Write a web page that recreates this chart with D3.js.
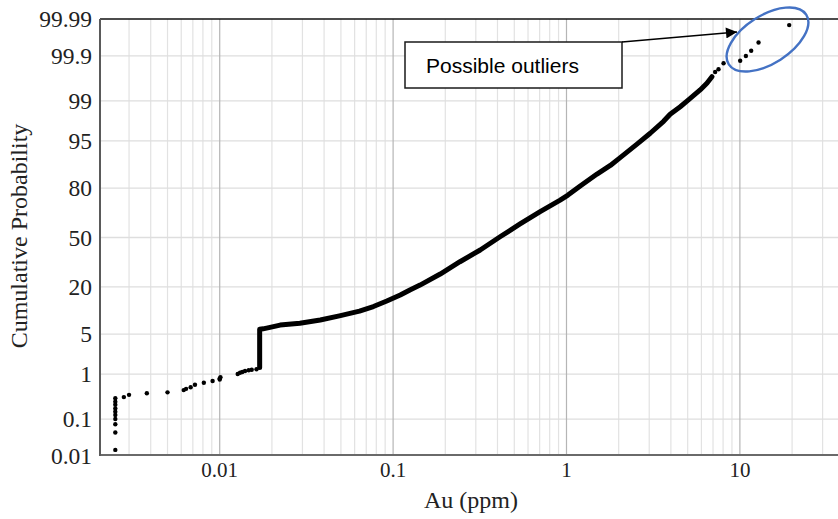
<!DOCTYPE html>
<html>
<head>
<meta charset="utf-8">
<script src="https://cdn.jsdelivr.net/npm/d3@7"></script>
<style>
  html, body { margin: 0; padding: 0; background: #fff; }
  svg { display: block; }
</style>
</head>
<body>
<script>
// Probability plot of Au assays: cumulative probability (probit axis) vs grade (log axis)

const yTicks = [0.01, 0.1, 1, 5, 20, 50, 80, 95, 99, 99.9, 99.99];
const yTickLabels = ["0.01", "0.1", "1", "5", "20", "50", "80", "95", "99", "99.9", "99.99"];
const xTicks = [0.01, 0.1, 1, 10];
const xTickLabels = ["0.01", "0.1", "1", "10"];

// low-grade tail: individual samples (ppm, cumulative %)
const lowAu = [0.0025, 0.0025, 0.0025, 0.0025, 0.0025, 0.0025, 0.0025, 0.0025, 0.0025, 0.0025,
               0.0028, 0.0030, 0.0038, 0.0050, 0.0062, 0.0064, 0.0068, 0.0072, 0.0081, 0.0091,
               0.0100, 0.0100, 0.0101, 0.0127, 0.0131, 0.0135, 0.0140, 0.0147, 0.0153, 0.0163];
const lowP  = [0.015, 0.045, 0.074, 0.10, 0.126, 0.151, 0.18, 0.22, 0.26, 0.31,
               0.33, 0.37, 0.40, 0.42, 0.47, 0.50, 0.54, 0.61, 0.67, 0.73,
               0.78, 0.82, 0.87, 1.01, 1.07, 1.10, 1.15, 1.19, 1.22, 1.25];

// main body of the distribution: samples close enough to form a continuous trace
const runAu = [0.017, 0.017, 0.0178, 0.0195, 0.0223, 0.029, 0.038, 0.049, 0.064, 0.077,
               0.092, 0.110, 0.125, 0.143, 0.187, 0.243, 0.318, 0.414, 0.540, 0.705,
               0.919, 1.02, 1.20, 1.50, 1.79, 2.04, 2.55, 3.04, 3.63, 3.96,
               4.53, 5.05, 5.90, 6.45, 6.90];
const runP  = [1.35, 5.9, 6.0, 6.3, 6.8, 7.2, 8.0, 9.1, 10.5, 12.0,
               14.0, 16.4, 18.6, 20.9, 26.7, 34.0, 41.6, 50.5, 59.1, 67.0,
               73.8, 76.5, 81.0, 86.0, 89.0, 91.3, 94.4, 96.2, 97.6, 98.2,
               98.7, 99.04, 99.40, 99.567, 99.69];

// high-grade tail, including the possible outliers
const highAu = [7.20, 7.53, 8.05, 10.04, 10.83, 11.62, 12.81, 19.25];
const highP  = [99.758, 99.79, 99.849, 99.869, 99.90, 99.926, 99.955, 99.985];

const W = 838, H = 519;
const plot = { left: 100, right: 838, top: 19, bottom: 456 };

// inverse standard normal CDF (Acklam's rational approximation)
function probit(p) {
  const a = [-3.969683028665376e+01, 2.209460984245205e+02, -2.759285104469687e+02,
             1.383577518672690e+02, -3.066479806614716e+01, 2.506628277459239e+00];
  const b = [-5.447609879822406e+01, 1.615858368580409e+02, -1.556989798598866e+02,
             6.680131188771972e+01, -1.328068155288572e+01];
  const c = [-7.784894002430293e-03, -3.223964580411365e-01, -2.400758277161838e+00,
             -2.549732539343734e+00, 4.374664141464968e+00, 2.938163982698783e+00];
  const d = [7.784695709041462e-03, 3.224671290700398e-01, 2.445134137142996e+00,
             3.754408661907416e+00];
  const pl = 0.02425, ph = 1 - pl;
  let q, r;
  if (p < pl) {
    q = Math.sqrt(-2 * Math.log(p));
    return (((((c[0]*q+c[1])*q+c[2])*q+c[3])*q+c[4])*q+c[5]) / ((((d[0]*q+d[1])*q+d[2])*q+d[3])*q+1);
  }
  if (p <= ph) {
    q = p - 0.5; r = q * q;
    return (((((a[0]*r+a[1])*r+a[2])*r+a[3])*r+a[4])*r+a[5])*q / (((((b[0]*r+b[1])*r+b[2])*r+b[3])*r+b[4])*r+1);
  }
  q = Math.sqrt(-2 * Math.log(1 - p));
  return -(((((c[0]*q+c[1])*q+c[2])*q+c[3])*q+c[4])*q+c[5]) / ((((d[0]*q+d[1])*q+d[2])*q+d[3])*q+1);
}

const x = d3.scaleLog().domain([0.00204, 36.8]).range([plot.left, plot.right]);
const yz = d3.scaleLinear().domain([probit(0.0001), probit(0.9999)]).range([plot.bottom, plot.top]);
const y = p => yz(probit(p / 100));

const svg = d3.select("body").append("svg").attr("width", W).attr("height", H);
svg.append("rect").attr("width", W).attr("height", H).attr("fill", "#fff");

// vertical grid: every integer multiple inside each decade, decades darker
const xGrid = [];
for (let e = -3; e <= 1; e++) {
  for (let k = 1; k <= 9; k++) {
    const v = k * Math.pow(10, e);
    if (v > x.domain()[0] * 1.02 && v < x.domain()[1]) xGrid.push({ v, major: k === 1 });
  }
}
svg.append("g").selectAll("line").data(xGrid.filter(d => !d.major)).join("line")
  .attr("x1", d => x(d.v)).attr("x2", d => x(d.v))
  .attr("y1", plot.top).attr("y2", plot.bottom)
  .attr("stroke", "#e2e2e2").attr("stroke-width", 1.2);

// horizontal grid at each probability tick
svg.append("g").selectAll("line").data(yTicks.slice(1, -1)).join("line")
  .attr("x1", plot.left).attr("x2", plot.right)
  .attr("y1", d => y(d)).attr("y2", d => y(d))
  .attr("stroke", "#dedede").attr("stroke-width", 1.3);

svg.append("g").selectAll("line").data(xGrid.filter(d => d.major)).join("line")
  .attr("x1", d => x(d.v)).attr("x2", d => x(d.v))
  .attr("y1", plot.top).attr("y2", plot.bottom)
  .attr("stroke", "#b5b5b5").attr("stroke-width", 1.2);

// frame
svg.append("line").attr("x1", plot.left).attr("x2", plot.right)
  .attr("y1", plot.top).attr("y2", plot.top).attr("stroke", "#111").attr("stroke-width", 1.3);
svg.append("line").attr("x1", plot.left).attr("x2", plot.right)
  .attr("y1", plot.bottom - 1).attr("y2", plot.bottom - 1).attr("stroke", "#6a6a6a").attr("stroke-width", 2);
svg.append("line").attr("x1", plot.left).attr("x2", plot.left)
  .attr("y1", plot.top).attr("y2", plot.bottom).attr("stroke", "#5a5a5a").attr("stroke-width", 2);

// tick labels
const serif = "'Liberation Serif', 'Times New Roman', serif";
svg.append("g").selectAll("text").data(yTicks).join("text")
  .attr("x", 92).attr("y", d => y(d)).attr("dy", "0.35em")
  .attr("text-anchor", "end")
  .attr("font-family", serif).attr("font-size", 23.5).attr("fill", "#222")
  .text((d, i) => yTickLabels[i]);

svg.append("g").selectAll("text").data(xTicks).join("text")
  .attr("x", d => x(d)).attr("y", 477)
  .attr("text-anchor", "middle")
  .attr("font-family", serif).attr("font-size", 21).attr("fill", "#222")
  .text((d, i) => xTickLabels[i]);

// axis titles
svg.append("text")
  .attr("transform", "translate(27,236) rotate(-90)")
  .attr("text-anchor", "middle")
  .attr("font-family", serif).attr("font-size", 24).attr("fill", "#222")
  .text("Cumulative Probability");
svg.append("text")
  .attr("x", 471).attr("y", 508)
  .attr("text-anchor", "middle")
  .attr("font-family", serif).attr("font-size", 24).attr("fill", "#222")
  .text("Au (ppm)");

// data
const run = runAu.map((v, i) => [v, runP[i]]);
svg.append("path")
  .datum(run)
  .attr("d", d3.line().x(d => x(d[0])).y(d => y(d[1])))
  .attr("fill", "none").attr("stroke", "#000")
  .attr("stroke-width", 5).attr("stroke-linejoin", "round").attr("stroke-linecap", "round");

const dots = lowAu.map((v, i) => [v, lowP[i]]).concat(highAu.map((v, i) => [v, highP[i]]));
svg.append("g").selectAll("circle").data(dots).join("circle")
  .attr("cx", d => x(d[0])).attr("cy", d => y(d[1]))
  .attr("r", 2.2).attr("fill", "#000");

// callout for the high-grade outliers
const box = { x0: 405, y0: 42, x1: 622, y1: 88 };
svg.append("rect")
  .attr("x", box.x0).attr("y", box.y0)
  .attr("width", box.x1 - box.x0).attr("height", box.y1 - box.y0)
  .attr("fill", "#fff").attr("stroke", "#1a1a1a").attr("stroke-width", 1.5);
svg.append("text")
  .attr("x", 426).attr("y", 73)
  .attr("font-family", "'Liberation Sans', Arial, sans-serif").attr("font-size", 21).attr("fill", "#000")
  .text("Possible outliers");

svg.append("defs").append("marker")
  .attr("id", "head").attr("viewBox", "0 0 10 10")
  .attr("refX", 10).attr("refY", 5)
  .attr("markerWidth", 12).attr("markerHeight", 11).attr("markerUnits", "userSpaceOnUse")
  .attr("orient", "auto")
  .append("path").attr("d", "M0,0 L10,5 L0,10 Z").attr("fill", "#000");
svg.append("line")
  .attr("x1", box.x1).attr("y1", box.y0)
  .attr("x2", 737).attr("y2", 32)
  .attr("stroke", "#000").attr("stroke-width", 1.3)
  .attr("marker-end", "url(#head)");

svg.append("ellipse")
  .attr("transform", "translate(767.5,39.5) rotate(-32.7)")
  .attr("rx", 46).attr("ry", 24)
  .attr("fill", "none").attr("stroke", "#4472c4").attr("stroke-width", 2.4);
</script>
</body>
</html>
